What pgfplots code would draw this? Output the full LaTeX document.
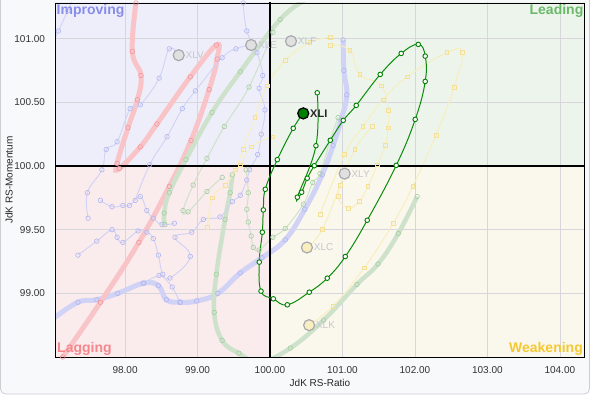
\documentclass[border=0pt]{standalone}
\usepackage{fontspec}
\setmainfont{Liberation Sans}
\usepackage{pgfplots}
\pgfplotsset{compat=1.18}
\definecolor{panelbg}{RGB}{248,249,251}
\definecolor{panelbd}{RGB}{205,205,210}
\definecolor{impbg}{RGB}{238,238,250}
\definecolor{leadbg}{RGB}{236,244,236}
\definecolor{lagbg}{RGB}{250,235,237}
\definecolor{weakbg}{RGB}{250,248,237}
\definecolor{gridc}{RGB}{214,214,220}
\definecolor{tb}{RGB}{208,210,246}
\definecolor{tbm}{RGB}{178,182,240}
\definecolor{tr}{RGB}{249,196,200}
\definecolor{trm}{RGB}{242,150,158}
\definecolor{tg}{RGB}{206,226,203}
\definecolor{tgm}{RGB}{165,205,160}
\definecolor{ty}{RGB}{248,238,190}
\definecolor{tym}{RGB}{244,224,150}
\definecolor{xli}{RGB}{10,140,10}
\definecolor{xlimk}{RGB}{0,128,0}
\definecolor{imptxt}{RGB}{135,140,235}
\definecolor{leadtxt}{RGB}{105,185,105}
\definecolor{lagtxt}{RGB}{245,135,140}
\definecolor{weaktxt}{RGB}{245,200,50}
\definecolor{headbd}{RGB}{168,168,174}
\definecolor{headtxt}{RGB}{198,198,204}
\pgfplotsset{
  thinb/.style={tb, line width=0.9pt, smooth, tension=0.7, mark=o, mark size=2.3pt, mark options={tbm, line width=0.6pt, solid}},
  thickb/.style={tb, line width=5pt, smooth, tension=0.7, mark=o, mark size=2.3pt, mark options={tbm, line width=0.6pt}},
  thickr/.style={tr, line width=5pt, smooth, tension=0.7, mark=o, mark size=2.3pt, mark options={trm, line width=0.6pt}},
  thickg/.style={tg, line width=4.5pt, smooth, tension=0.7, mark=o, mark size=2.3pt, mark options={tgm, line width=0.6pt}},
  thing/.style={tg, line width=1pt, smooth, tension=0.7, mark=o, mark size=2.3pt, mark options={tgm, line width=0.6pt}},
  thiny/.style={ty, line width=1pt, smooth, tension=0.7, mark=square, mark size=1.9pt, mark options={tym, line width=0.6pt}},
  head/.style={only marks, mark=*, mark size=5.5pt, mark options={draw=headbd, line width=1.2pt, fill=#1},
    nodes near coords, point meta=explicit symbolic,
    every node near coord/.style={anchor=west, xshift=3pt, font=\fontsize{10}{12}\selectfont, text=headtxt}},
}
\begin{document}
\begin{tikzpicture}
\useasboundingbox (0,0) rectangle (590pt,396pt);
\begin{scope}
\clip (0,0) rectangle (590pt,396pt);
\fill[panelbg, draw=panelbd, line width=0.8pt, rounded corners=5pt] (0.5pt,2pt) rectangle (589.5pt,430pt);
\end{scope}
\begin{axis}[
  at={(55.5pt,39pt)}, anchor=south west,
  scale only axis, width=529pt, height=354pt,
  xmin=97.04, xmax=104.34, ymin=98.50, ymax=101.28,
  axis on top,
  axis line style={black, line width=0.9pt},
  xtick={98,99,100,101,102,103,104},
  ytick={99,99.5,100,100.5,101},
  major tick length=0pt,
  tick label style={font=\fontsize{10}{12}\selectfont, text=black!80},
  xticklabel style={yshift=-6pt},
  yticklabel style={xshift=-7pt},
  /pgf/number format/.cd, fixed, fixed zerofill, precision=2, assume math mode=true,
]
% quadrant backgrounds
\fill[impbg] (axis cs:97.0,100) rectangle (axis cs:100,101.3);
\fill[leadbg] (axis cs:100,100) rectangle (axis cs:104.4,101.3);
\fill[lagbg] (axis cs:97.0,98.45) rectangle (axis cs:100,100);
\fill[weakbg] (axis cs:100,98.45) rectangle (axis cs:104.4,100);
% grid
\draw[gridc, line width=0.7pt] (axis cs:98,98.45) -- (axis cs:98,101.3);
\draw[gridc, line width=0.7pt] (axis cs:99,98.45) -- (axis cs:99,101.3);
\draw[gridc, line width=0.7pt] (axis cs:101,98.45) -- (axis cs:101,101.3);
\draw[gridc, line width=0.7pt] (axis cs:102,98.45) -- (axis cs:102,101.3);
\draw[gridc, line width=0.7pt] (axis cs:103,98.45) -- (axis cs:103,101.3);
\draw[gridc, line width=0.7pt] (axis cs:104,98.45) -- (axis cs:104,101.3);
\draw[gridc, line width=0.7pt] (axis cs:97,99) -- (axis cs:104.4,99);
\draw[gridc, line width=0.7pt] (axis cs:97,99.5) -- (axis cs:104.4,99.5);
\draw[gridc, line width=0.7pt] (axis cs:97,100.5) -- (axis cs:104.4,100.5);
\draw[gridc, line width=0.7pt] (axis cs:97,101) -- (axis cs:104.4,101);

% faded tails: thick
\addplot[thickb] coordinates {(97.03,98.81)(97.35,98.93)(97.61,98.95)(97.90,99.00)(98.26,99.08)(98.46,99.06)(98.57,98.95)(98.76,98.93)(98.99,98.94)(99.28,99.00)(99.59,99.16)(99.89,99.28)(100.21,99.42)(100.48,99.66)(100.72,99.93)(100.87,100.16)(100.98,100.36)(101.06,100.56)(101.02,100.75)(101.01,100.99)};
\addplot[thickr] coordinates {(97.03,98.42)(97.14,98.50)(97.66,98.93)(98.19,99.40)(98.61,99.84)(98.91,100.20)(99.16,100.60)(99.27,100.84)(99.26,100.95)(98.90,100.70)(98.44,100.33)(98.21,100.15)(97.92,99.98)(97.89,100.02)(98.04,100.30)(98.17,100.52)(98.22,100.71)(98.10,100.90)(98.15,101.28)};
\addplot[thickg] coordinates {(100.48,101.30)(100.14,101.15)(99.59,100.74)(99.20,100.42)(98.84,100.05)(98.61,99.79)(98.54,99.63)(98.55,99.54)};
\addplot[thickg] coordinates {(99.48,99.93)(99.45,99.79)(99.38,99.58)(99.26,99.15)(99.23,98.85)(99.34,98.63)(99.57,98.53)(99.86,98.46)(100.28,98.57)(100.74,98.79)(101.20,99.07)(101.49,99.23)(101.77,99.47)(102.03,99.76)};
% faded tails: thin blue
\addplot[thinb] coordinates {(97.49,99.59)(97.48,99.79)(97.68,99.97)(97.74,100.13)(97.89,100.19)(98.07,100.45)(98.21,100.48)(98.47,100.69)(98.61,100.92)(98.74,100.87)};
\addplot[thinb] coordinates {(98.14,99.73)(98.34,100.01)(98.58,100.23)(98.79,100.45)(98.97,100.59)(99.34,100.85)(99.53,100.92)(99.74,100.95)};
\addplot[thinb] coordinates {(99.63,101.28)(99.68,101.06)(99.82,100.89)(99.90,100.71)(99.85,100.61)(99.93,100.44)(99.88,100.25)(99.83,100.09)(99.72,99.97)(99.68,99.89)(99.59,99.77)(99.48,99.72)(99.31,99.60)(99.08,99.58)(98.92,99.48)(98.69,99.44)(98.90,99.29)(98.62,99.12)(98.47,99.14)(98.25,99.08)};
\addplot[thinb] coordinates {(97.35,99.30)(97.61,99.41)(97.82,99.50)(97.89,99.44)(97.97,99.40)(98.18,99.49)(98.30,99.48)(98.39,99.43)(98.46,99.30)(98.52,99.15)(98.65,99.05)(98.76,98.93)};
\addplot[thinb] coordinates {(97.66,99.73)(97.82,99.68)(97.97,99.69)(98.06,99.69)(98.21,99.76)(98.30,99.65)(98.39,99.59)(98.51,99.54)(98.68,99.55)};
\addplot[thinb] coordinates {(97.03,101.00)(97.08,101.06)(97.21,101.22)(97.27,101.30)};
% faded tails: thin green
\addplot[thing] coordinates {(100.04,101.05)(99.71,100.62)(99.37,100.31)(99.13,100.06)(98.94,99.85)(98.80,99.65)(98.87,99.64)(99.13,99.80)(99.34,99.91)};
\addplot[thing] coordinates {(99.67,99.97)(99.70,99.79)(99.68,99.66)(99.70,99.56)(99.74,99.45)(99.77,99.36)(99.85,99.34)(100.04,99.44)(100.21,99.51)(100.46,99.70)(100.59,99.87)(100.69,99.94)(100.83,100.20)(100.94,100.38)};
% faded tails: thin yellow
\addplot[thiny] coordinates {(100.69,99.62)(101.03,100.09)(101.28,100.31)(101.56,100.52)(101.89,100.70)(102.44,100.89)(102.65,100.89)(102.54,100.62)(102.29,100.24)(101.97,99.84)(101.70,99.55)(101.30,99.20)(100.87,98.90)(100.54,98.75)};
\addplot[thiny] coordinates {(100.83,100.95)(101.10,100.91)(101.24,100.72)(101.54,100.63)(101.63,100.44)(101.63,100.30)(101.59,100.16)(101.48,100.01)(101.35,99.84)(101.23,99.72)(101.08,99.67)(100.94,99.76)(101.03,99.94)};
\addplot[thiny] coordinates {(101.41,100.31)(101.17,100.13)(100.97,99.85)(100.72,99.50)(100.51,99.36)};
\addplot[thiny] coordinates {(99.52,99.97)(99.63,100.13)(99.79,100.38)(99.96,100.63)(100.21,100.83)(100.55,100.97)(100.83,101.01)};
\addplot[thiny] coordinates {(99.14,99.52)(99.20,99.75)(99.38,99.85)(99.59,100.01)(99.74,100.15)(100.04,100.23)};
% faded heads
\addplot[head={black!12}] coordinates {(98.74,100.87)[XLV] (99.74,100.95)[XLE] (100.29,100.98)[XLF] (101.03,99.94)[XLY]};
\addplot[head={ty}] coordinates {(100.51,99.36)[XLC] (100.54,98.75)[XLK]};
\addplot[head={tr}] coordinates {(96.97,99.48)[XLE]};

% centre lines
\draw[black, line width=1.1pt] (axis cs:100,98.45) -- (axis cs:100,101.3);
\draw[black, line width=1.1pt] (axis cs:97,100) -- (axis cs:104.4,100);

% XLI tail
\addplot[xli, line width=1pt, smooth, tension=0.7, mark=*, mark size=2.3pt, mark options={fill=white, draw=xlimk, line width=0.9pt}] coordinates {
(100.652,100.575)(100.634,100.159)(100.377,99.755)(100.437,99.794)(100.514,99.904)(100.611,100.002)
(100.832,100.202)(101.011,100.358)(101.190,100.476)(101.521,100.719)(101.811,100.884)(102.046,100.955)
(102.142,100.863)(102.142,100.664)(102.004,100.366)(101.742,100.005)(101.342,99.574)(101.039,99.289)
(100.790,99.119)(100.542,99.009)(100.239,98.910)(100.046,98.957)(99.876,99.017)(99.852,99.245)
(99.894,99.480)(99.908,99.655)(99.935,99.817)(100.101,100.050)(100.321,100.296)(100.459,100.413)};
\addplot[only marks, mark=*, mark size=5.5pt, mark options={fill=xlimk, draw=black, line width=1.3pt},
  nodes near coords, point meta=explicit symbolic,
  every node near coord/.style={anchor=west, xshift=3pt, font=\bfseries\fontsize{11}{13}\selectfont, text=black!85}]
  coordinates {(100.459,100.413)[XLI]};

% quadrant names
\node[anchor=north west, font=\bfseries\fontsize{14}{16}\selectfont, text=imptxt, inner sep=1pt] at (axis description cs:0,1) {Improving};
\node[anchor=north east, font=\bfseries\fontsize{14}{16}\selectfont, text=leadtxt, inner sep=1pt] at (axis description cs:1,1) {Leading};
\node[anchor=south west, font=\bfseries\fontsize{14}{16}\selectfont, text=lagtxt, inner sep=1.5pt] at (axis description cs:0,0) {Lagging};
\node[anchor=south east, font=\bfseries\fontsize{14}{16}\selectfont, text=weaktxt, inner sep=1.5pt] at (axis description cs:1,0) {Weakening};
\end{axis}
\node[font=\fontsize{10}{12}\selectfont, text=black!85] at (320pt,13pt) {JdK RS-Ratio};
\node[rotate=90, font=\fontsize{10}{12}\selectfont, text=black!85] at (9pt,216pt) {JdK RS-Momentum};
\end{tikzpicture}
\end{document}
